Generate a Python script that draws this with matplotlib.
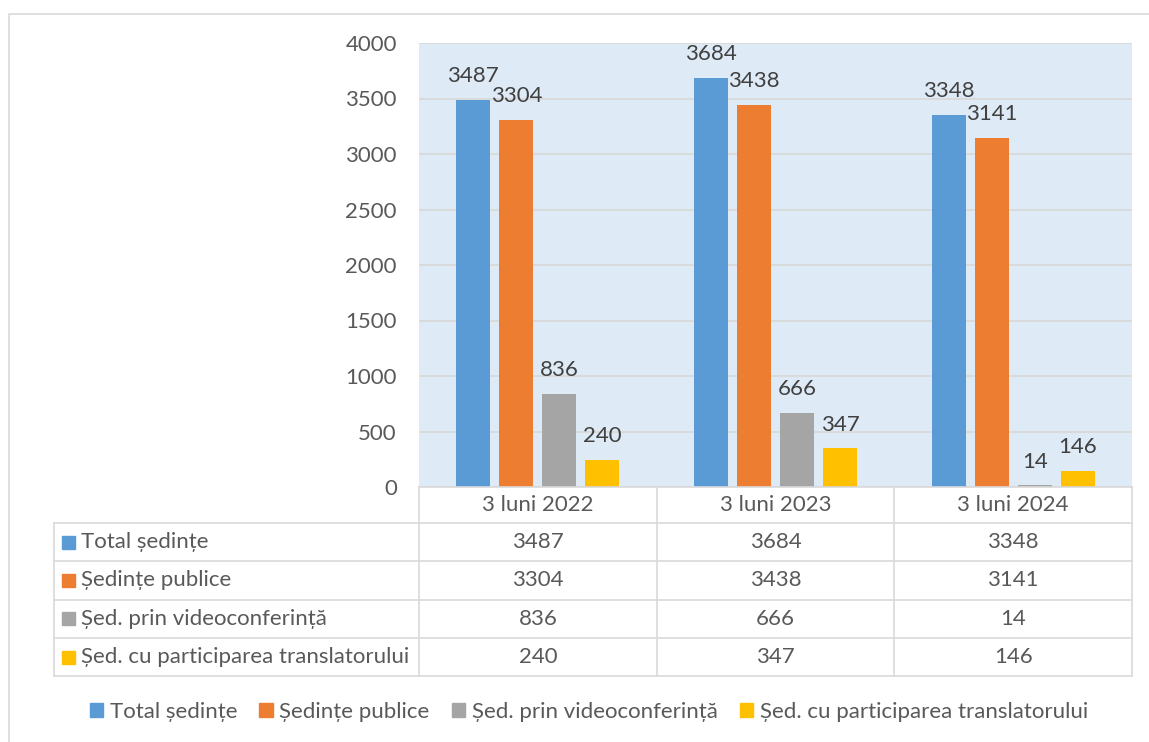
import matplotlib
matplotlib.use("Agg")
import matplotlib.pyplot as plt
import matplotlib.transforms as mtransforms
from matplotlib.patches import Rectangle, Patch
from matplotlib.lines import Line2D
import numpy as np

plt.rcParams['font.family'] = ['Lato', 'DejaVu Sans']

categories = ["3 luni 2022", "3 luni 2023", "3 luni 2024"]
series_names = ["Total ședințe", "Ședințe publice", "Șed. prin videoconferință",
                "Șed. cu participarea translatorului"]
total_sedinte = [3487, 3684, 3348]
sedinte_publice = [3304, 3438, 3141]
videoconferinta = [836, 666, 14]
translator = [240, 347, 146]
series_values = [total_sedinte, sedinte_publice, videoconferinta, translator]
colors = ["#5B9BD5", "#ED7D31", "#A5A5A5", "#FFC000"]
yticks = [0, 500, 1000, 1500, 2000, 2500, 3000, 3500, 4000]

FS = 16
W, H = 1149, 742
fig = plt.figure(figsize=(W / 100, H / 100), dpi=100)

def fx(px):
    return px / W

def fy(py):
    return 1 - py / H

ax = fig.add_axes([fx(419), fy(487), fx(1132) - fx(419), fy(43) - fy(487)])
ax.set_facecolor("#DEEAF6")
x = np.arange(len(categories))
bw = 0.1435
step = 0.181
for i, (name, vals, c) in enumerate(zip(series_names, series_values, colors)):
    xs = x + (i - 1.5) * step
    ax.bar(xs, vals, width=bw, color=c, zorder=3)
    for xi, v in zip(xs, vals):
        ax.annotate(str(v), (xi, v), xytext=(0, 10), textcoords="offset points",
                    ha="center", va="bottom", fontsize=FS, color="#404040", zorder=4)

ax.set_xlim(-0.5, 2.5)
ax.set_ylim(0, 4000)
ax.set_yticks(yticks)
ax.set_yticklabels([str(t) for t in yticks])
ax.tick_params(axis="y", length=0, pad=16, labelsize=FS, labelcolor="#595959")
ax.set_xticks([])
ax.grid(axis="y", color="#D9D9D9", linewidth=1.3, zorder=0)
for s in ax.spines.values():
    s.set_visible(False)

# Data table (columns aligned to the category axis)
lc = "#D9D9D9"
lw = 1.2
trans = mtransforms.blended_transform_factory(ax.transData, fig.transFigure)
row_y = [487, 523, 561, 599.5, 638, 676]
fig.add_artist(Line2D([-0.5, 2.5], [fy(487), fy(487)], transform=trans, color=lc, lw=lw))
for xv in [-0.5, 0.5, 1.5, 2.5]:
    fig.add_artist(Line2D([xv, xv], [fy(487), fy(676)], transform=trans, color=lc, lw=lw))
for yv in row_y[1:]:
    fig.add_artist(Line2D([fx(54), fx(1132)], [fy(yv), fy(yv)], color=lc, lw=lw))
fig.add_artist(Line2D([fx(54), fx(54)], [fy(523), fy(676)], color=lc, lw=lw))

for j, cat in enumerate(categories):
    fig.text(j, fy((row_y[0] + row_y[1]) / 2), cat, transform=trans, fontsize=FS,
             color="#595959", ha="center", va="center")
for i, (name, vals, c) in enumerate(zip(series_names, series_values, colors)):
    yc = (row_y[i + 1] + row_y[i + 2]) / 2
    fig.add_artist(Rectangle((fx(62), fy(yc + 6.5)), fx(13), 13 / H, color=c,
                             transform=fig.transFigure))
    fig.text(fx(81), fy(yc), name, fontsize=FS, color="#595959", ha="left", va="center")
    for j, v in enumerate(vals):
        fig.text(j, fy(yc), str(v), transform=trans, fontsize=FS, color="#595959",
                 ha="center", va="center")

# chart border
fig.add_artist(Rectangle((fx(8.5), fy(H + 5)), fx(W + 10), fy(13.5) - fy(H + 5),
                         fill=False, edgecolor="#D9D9D9", lw=1.2, transform=fig.transFigure))

handles = [Patch(facecolor=c, edgecolor=c) for c in colors]
fig.legend(handles, series_names, loc="center", bbox_to_anchor=(fx(589), fy(712)),
           ncol=4, frameon=False, fontsize=FS, labelcolor="#595959",
           handlelength=0.6, handleheight=0.6, handletextpad=0.3, columnspacing=1.0)

fig.savefig("out.png", dpi=100)
